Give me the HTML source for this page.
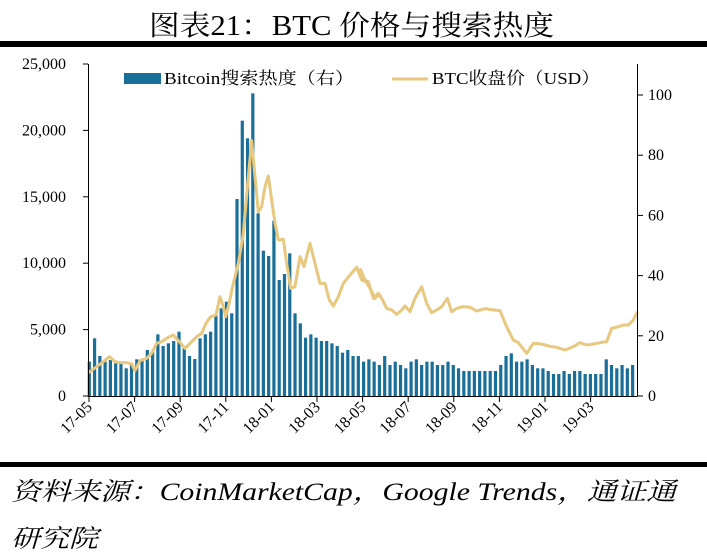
<!DOCTYPE html>
<html><head><meta charset="utf-8">
<style>
html,body{margin:0;padding:0;background:#fff;}
body{width:707px;height:559px;overflow:hidden;position:relative;font-family:"Liberation Serif","Noto Serif CJK SC",serif;}
</style></head>
<body>
<svg id="s" width="707" height="559" viewBox="0 0 707 559" xmlns="http://www.w3.org/2000/svg" style="position:absolute;left:0;top:0">
<text x="149" y="35" font-size="28" textLength="405" lengthAdjust="spacingAndGlyphs" font-family="Liberation Serif, Noto Serif CJK SC, serif">图表21：BTC 价格与搜索热度</text>
<rect x="0" y="41" width="707" height="6" fill="#000"/>
<rect x="0" y="462" width="707" height="5" fill="#000"/>
<g id="bars" fill="#1a6f9a"></g>
<g transform="translate(80,50) scale(0.33333)" fill="none" stroke="#e8c77e" stroke-width="9" stroke-linejoin="round">
<polyline points="25,968 50,950 70,935 88,920 105,935 120,938 140,938 155,942 165,962 180,932 200,925 215,910 230,880 245,875 265,862 280,855 295,872 315,895 335,875 350,860 365,850 378,820 392,800 408,795 420,740 430,770 437,800 445,770 460,700 475,640 490,550 505,380 515,272 525,380 535,485 545,470 555,410 565,378 575,450 585,520 595,570 610,568 620,640 632,715 645,710 660,620 672,650 690,580 705,640 720,700 735,700 748,750 760,768 775,740 790,700 810,675 830,652 845,690 858,695 873,720 885,745 900,730 "/>
</g>
<g transform="translate(360,50) scale(0.33333)" fill="none" stroke="#e8c77e" stroke-width="9" stroke-linejoin="round">
<polyline points="0,655 15,690 25,695 40,745 55,730 65,745 80,775 95,780 110,793 125,780 135,768 150,785 165,745 185,710 200,760 215,788 230,780 245,770 262,745 275,785 290,775 310,770 330,772 350,783 375,776 400,780 420,782 440,830 460,870 475,878 500,910 520,880 545,882 565,888 590,892 615,900 640,890 660,878 680,885 700,882 720,878 740,875 755,835 775,830 790,825 805,825 820,810 832,785"/>
</g>
<g stroke="#000" stroke-width="1" fill="none">
<line x1="88.5" y1="64" x2="88.5" y2="396"/>
<line x1="637.5" y1="64" x2="637.5" y2="396"/>
<line x1="88" y1="396.5" x2="637" y2="396.5"/>
</g>
<g id="ticks" stroke="#000" stroke-width="1"></g>
<g id="lbl" font-size="16" fill="#000"></g>
<rect x="124" y="73" width="37" height="11" fill="#1a6f9a"/>
<text x="164" y="84" font-size="17" textLength="190" lengthAdjust="spacingAndGlyphs">Bitcoin搜索热度（右）</text>
<line x1="392" y1="79" x2="428" y2="79" stroke="#e8c77e" stroke-width="3"/>
<text x="432" y="84" font-size="17" textLength="168" lengthAdjust="spacingAndGlyphs">BTC收盘价（USD）</text>
<text x="11" y="500" font-size="25" font-style="italic" textLength="665" lengthAdjust="spacingAndGlyphs">资料来源：CoinMarketCap，Google Trends，通证通</text>
<text x="11" y="547" font-size="25" font-style="italic" textLength="87" lengthAdjust="spacingAndGlyphs">研究院</text>
</svg>
<script>
var tops=[935,865,918,935,930,940,940,955,940,928,928,900,905,853,888,880,873,845,888,918,927,865,853,845,795,775,755,790,447,212,265,130,490,602,618,512,690,672,610,790,820,863,853,863,873,873,880,888,908,900,918,918,
935,928,935,945,918,945,935,945,955,935,928,945,935,935,945,945,935,945,955,963,963,963,963,963,963,963,945,918,910,935,935,928,945,955,955,963,972,972,963,972,963,963,972,972,972,972,928,945,955,945,955,945];
var ns="http://www.w3.org/2000/svg",b=document.getElementById('bars');
for(var i=0;i<tops.length;i++){var v=(1038-tops[i])/9.03;var h=v*3.01;var x=89.3+i*5.275;
var r=document.createElementNS(ns,'rect');r.setAttribute('x',(x-1.6).toFixed(2));r.setAttribute('y',(396-h).toFixed(2));r.setAttribute('width','3.2');r.setAttribute('height',h.toFixed(2));b.appendChild(r);}
var t=document.getElementById('ticks'),l=document.getElementById('lbl');
function line(x1,y1,x2,y2){var e=document.createElementNS(ns,'line');e.setAttribute('x1',x1);e.setAttribute('y1',y1);e.setAttribute('x2',x2);e.setAttribute('y2',y2);t.appendChild(e);}
function txt(x,y,s,a,tr){var e=document.createElementNS(ns,'text');e.setAttribute('x',x);e.setAttribute('y',y);e.setAttribute('text-anchor',a);if(tr)e.setAttribute('transform',tr);e.textContent=s;l.appendChild(e);}
var L=['0','5,000','10,000','15,000','20,000','25,000'];
for(var k=0;k<6;k++){var y=396-k*66.4;line(83,y,88,y);txt(66,y+5,L[k],'end');}
for(var k=0;k<=5;k++){var y=396-k*20*3.01;line(637,y,643,y);txt(648,y+5,String(k*20),'start');}
var X=['17-05','17-07','17-09','17-11','18-01','18-03','18-05','18-07','18-09','18-11','19-01','19-03'];
for(var k=0;k<12;k++){var x=89+k*45.6;line(x,396,x,402);txt(x+4,408,X[k],'end','rotate(-45 '+(x+4)+' 408)');}
</script>
</body></html>
